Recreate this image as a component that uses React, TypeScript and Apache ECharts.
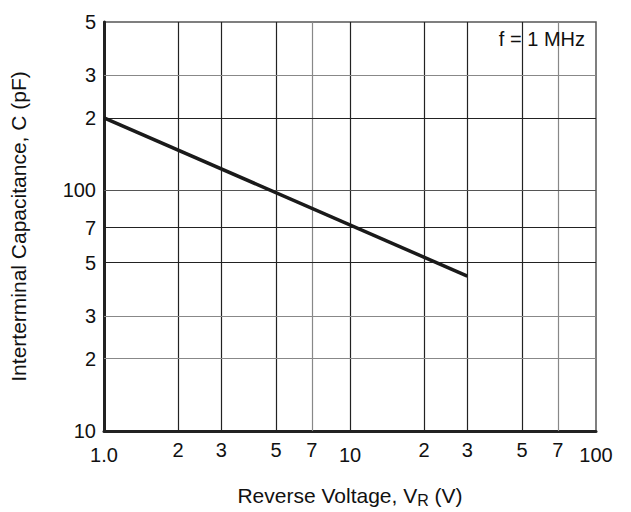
import React, { useEffect, useRef } from "react";
import * as echarts from "echarts";

const curveVoltage = [1, 30];
const curveCapacitance = [200, 44];

const xTickValues = [1, 2, 3, 5, 7, 10, 20, 30, 50, 70, 100];
const yTickValues = [10, 20, 30, 50, 70, 100, 200, 300, 500];
const xGridValues = [2, 3, 5, 7, 10, 20, 30, 50, 70];
const yGridValues = [20, 30, 50, 70, 100, 200, 300];
const xGrayGrid = [7, 70];
const yGrayGrid = [20, 30, 300];

const annotation = "f = 1 MHz";
const xTitle = "Reverse Voltage, V{sub|R} (V)";
const yTitle = "Interterminal Capacitance, C (pF)";

const FONT = "Liberation Sans, Arial, Helvetica, sans-serif";

function isDecade(v: number) {
  const l = Math.log10(v);
  return Math.abs(l - Math.round(l)) < 1e-6;
}
function labelOf(v: number, first: string) {
  const r = Math.round(v);
  if (isDecade(r)) return r === 1 ? first : String(r);
  return String(Math.round(r / Math.pow(10, Math.floor(Math.log10(r)))));
}

export default function App() {
  const ref = useRef<HTMLDivElement>(null);
  useEffect(() => {
    if (!ref.current) return;
    const chart = echarts.init(ref.current, undefined, { renderer: "svg" });
    const data = curveVoltage.map((x, i) => [x, curveCapacitance[i]]);
    const gridLines = [
      ...xGridValues.map((v) => ({
        xAxis: v,
        lineStyle: { color: xGrayGrid.includes(v) ? "#888" : "#222", width: 1.2, type: "solid" },
      })),
      ...yGridValues.map((v) => ({
        yAxis: v,
        lineStyle: { color: yGrayGrid.includes(v) ? "#888" : v === 100 ? "#555" : "#222", width: 1.2, type: "solid" },
      })),
    ];
    chart.setOption({
      animation: false,
      textStyle: { fontFamily: FONT },
      grid: {
        left: 104,
        top: 22,
        right: 35,
        bottom: 81,
        containLabel: false,
        outerBoundsMode: "none",
        show: true,
        borderColor: "#555",
        borderWidth: 1.5,
      },
      graphic: [
        {
          type: "text",
          right: 46,
          top: 29,
          style: { text: annotation, fontSize: 20, fontFamily: FONT, fill: "#111" },
          z: 10,
        },
      ],
      xAxis: {
        type: "log",
        logBase: 10,
        min: 1,
        max: 100,
        name: xTitle,
        nameLocation: "middle",
        nameGap: 51,
        nameTextStyle: {
          fontSize: 21,
          color: "#111",
          fontFamily: FONT,
          rich: { sub: { fontSize: 16, padding: [10, 0, 0, 0], color: "#111", fontFamily: FONT } },
        },
        axisLine: { show: true, lineStyle: { color: "#222", width: 3 } },
        axisTick: { show: false },
        splitLine: { show: false },
        minorSplitLine: { show: false },
        axisLabel: {
          customValues: xTickValues,
          margin: 9,
          formatter: (v: number) => {
            const t = labelOf(v, "1.0");
            return isDecade(Math.round(v)) ? `{d|${t}}` : `{m|${t}}`;
          },
          rich: {
            d: { fontSize: 20, color: "#111", fontFamily: FONT, padding: [5, 0, 0, 0] },
            m: { fontSize: 20, color: "#111", fontFamily: FONT },
          },
        },
      },
      yAxis: {
        type: "log",
        logBase: 10,
        min: 10,
        max: 500,
        name: yTitle,
        nameLocation: "middle",
        nameRotate: 90,
        nameGap: 75,
        nameTextStyle: { fontSize: 21, color: "#111", fontFamily: FONT },
        axisLine: { show: true, lineStyle: { color: "#222", width: 3 } },
        axisTick: { show: false },
        splitLine: { show: false },
        minorSplitLine: { show: false },
        axisLabel: {
          customValues: yTickValues,
          margin: 8,
          fontSize: 20,
          color: "#111",
          fontFamily: FONT,
          formatter: (v: number) => labelOf(v, "10"),
        },
      },
      series: [
        {
          type: "line",
          data,
          symbol: "none",
          lineStyle: { color: "#1a1a1a", width: 3.5 },
          z: 5,
          markLine: {
            silent: true,
            symbol: "none",
            label: { show: false },
            animation: false,
            z: 1,
            data: gridLines,
          },
        },
      ],
    });
    return () => chart.dispose();
  }, []);
  return (
    <div
      ref={ref}
      style={{ position: "absolute", left: 0, top: 0, width: 631, height: 512 }}
    />
  );
}
